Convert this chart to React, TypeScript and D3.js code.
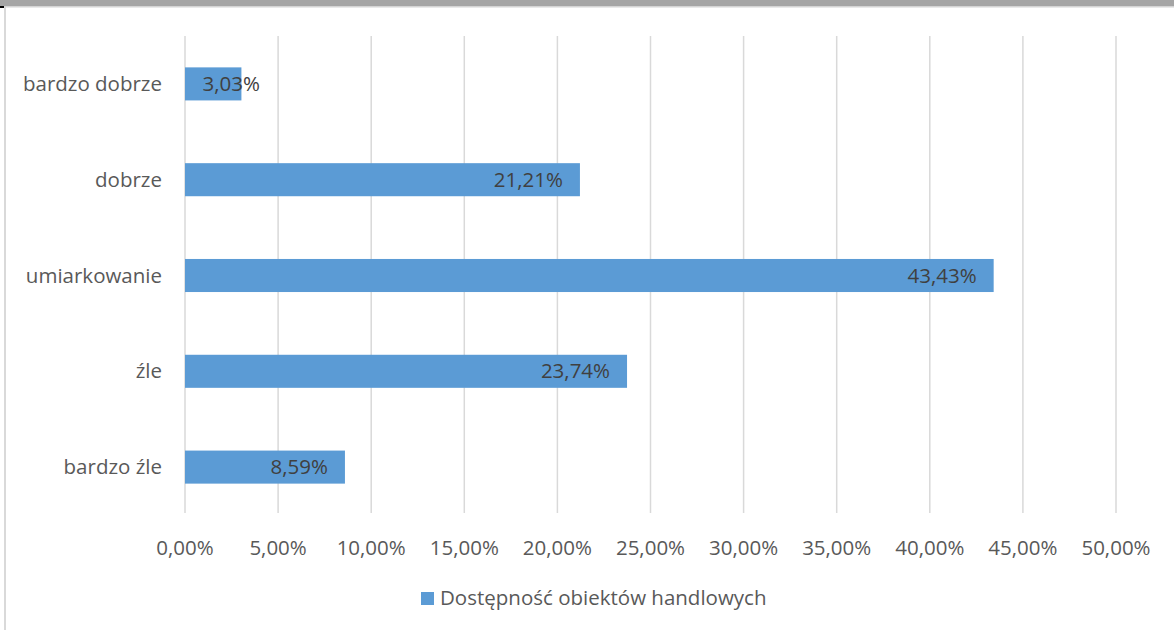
import React from "react";
import * as d3 from "d3";

const categories = ["bardzo dobrze", "dobrze", "umiarkowanie", "źle", "bardzo źle"];
const values = [3.03, 21.21, 43.43, 23.74, 8.59];
const ticks = [0, 5, 10, 15, 20, 25, 30, 35, 40, 45, 50];
const seriesName = "Dostępność obiektów handlowych";

const W = 1174, H = 630;
const font = "'Open Sans', 'DejaVu Sans', sans-serif";
const fs = 20.5;
const fmt = (v: number) => v.toFixed(2).replace(".", ",") + "%";

export default function App() {
  const x = d3.scaleLinear().domain([0, 50]).range([185, 1116]);
  const y = d3.scaleBand().domain(categories).range([36, 515]).paddingInner(0.655).paddingOuter(0.3275);
  const labelW = (s: string) => s.length * 11.8;
  return (
    <svg width={W} height={H} style={{ position: "absolute", left: 0, top: 0 }}>
      <rect x={0} y={0} width={W} height={H} fill="#fff" />
      <rect x={0} y={0} width={W} height={6} fill="#a5a5a5" />
      <rect x={0} y={6} width={W} height={1.5} fill="#d4d4d4" />
      <rect x={4} y={7} width={2} height={H - 7} fill="#d9d9d9" />
      <rect x={0} y={6} width={4} height={2} fill="#000" />
      {ticks.map((t) => (
        <line key={t} x1={x(t)} x2={x(t)} y1={36} y2={513} stroke="#d9d9d9" strokeWidth={1.5} />
      ))}
      {categories.map((c, i) => {
        const s = fmt(values[i]);
        const lx = Math.max(x(values[i]) - 17, x(0) + 16 + labelW(s));
        const cy = y(c)! + y.bandwidth() / 2;
        return (
          <g key={c}>
            <rect x={x(0)} y={y(c)!} width={x(values[i]) - x(0)} height={y.bandwidth()} fill="#5b9bd5" />
            <text x={lx} y={cy} dy="0.35em" textAnchor="end"
              fontFamily={font} fontSize={fs} fill="#404040">{s}</text>
            <text x={162} y={cy} dy="0.35em" textAnchor="end"
              fontFamily={font} fontSize={fs} fill="#595959">{c}</text>
          </g>
        );
      })}
      {ticks.map((t) => (
        <text key={"l" + t} x={x(t)} y={548} dy="0.35em" textAnchor="middle"
          fontFamily={font} fontSize={fs} fill="#595959">{fmt(t)}</text>
      ))}
      <rect x={421} y={592} width={13} height={13} fill="#5b9bd5" />
      <text x={440} y={598} dy="0.35em" fontFamily={font} fontSize={fs} fill="#595959">{seriesName}</text>
    </svg>
  );
}
